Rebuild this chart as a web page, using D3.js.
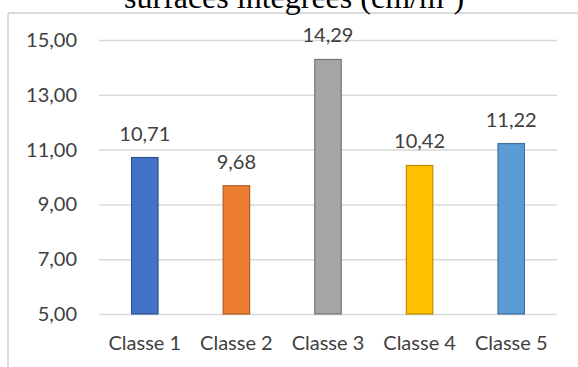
<!DOCTYPE html>
<html>
<head>
<meta charset="utf-8">
<script src="https://cdn.jsdelivr.net/npm/d3@7"></script>
<style>
    body { margin: 0; background: #fff; }
    svg { display: block; }
</style>
</head>
<body>
<svg id="SVG_CONTAINER" width="578" height="367"></svg>
<script>
// chart data
const categories = ["Classe 1", "Classe 2", "Classe 3", "Classe 4", "Classe 5"];
const values = [10.71, 9.68, 14.29, 10.42, 11.22];
const tickValues = [5, 7, 9, 11, 13, 15];
const titleText = "surfaces intégrées (cm/m²)";

const fills   = ["#4472C4", "#ED7D31", "#A5A5A5", "#FFC000", "#5B9BD5"];
const strokes = ["#2F528F", "#AE5A21", "#787878", "#BC8C00", "#41719C"];

const MARGIN = { LEFT: 99, RIGHT: 20, TOP: 40, BOTTOM: 53 };
const width = 578, height = 367;
const FONT = "Lato, 'DejaVu Sans', sans-serif";

let svg = d3.select("#SVG_CONTAINER");

// frame of the chart area (left and top edge visible)
svg.append("line")
    .attr("x1", 8).attr("x2", 8).attr("y1", 13).attr("y2", height)
    .attr("stroke", "#D0D0D0").attr("stroke-width", 1.5);
svg.append("line")
    .attr("x1", 8).attr("x2", width).attr("y1", 13).attr("y2", 13)
    .attr("stroke", "#D0D0D0").attr("stroke-width", 1.5);

// title, cut off by the top of the picture
svg.append("text")
    .attr("x", 294)
    .attr("y", 8)
    .attr("text-anchor", "middle")
    .style("font-family", "'Liberation Serif', 'Times New Roman', serif")
    .style("font-size", "32px")
    .style("fill", "#000")
    .text(titleText);

//** SCALES *****************************************
let xScale = d3.scaleBand()
    .domain(categories)
    .range([MARGIN.LEFT, width - MARGIN.RIGHT - 1])
    .paddingInner(0.695)
    .paddingOuter(0.3475);

let yScale = d3.scaleLinear()
    .domain([5, 15])
    .range([height - MARGIN.BOTTOM, MARGIN.TOP]);

let fmt = d => d.toFixed(2).replace(".", ",");

//** GRID + Y AXIS *****************************************
let yAxis = d3.axisLeft(yScale)
    .tickValues(tickValues)
    .tickSize(-(width - MARGIN.RIGHT - 1 - MARGIN.LEFT))
    .tickPadding(22)
    .tickFormat(fmt);

let yG = svg.append("g")
    .attr("transform", "translate(" + MARGIN.LEFT + ",0)")
    .call(yAxis);
yG.select(".domain").remove();
yG.selectAll(".tick line")
    .attr("stroke", "#D9D9D9")
    .attr("stroke-width", 1.5);
yG.selectAll(".tick text")
    .style("font-family", FONT)
    .style("font-size", "20px")
    .style("fill", "#404040");

//** X AXIS *****************************************
let xAxis = d3.axisBottom(xScale).tickSize(0).tickPadding(22);
let xG = svg.append("g")
    .attr("transform", "translate(0," + (height - MARGIN.BOTTOM) + ")")
    .call(xAxis);
xG.select(".domain").remove();
xG.selectAll(".tick text")
    .style("font-family", FONT)
    .style("font-size", "20px")
    .style("fill", "#404040");

//** BARS *****************************************
svg.append("g")
    .selectAll("rect")
    .data(values)
    .enter()
    .append("rect")
    .attr("x", (d, i) => xScale(categories[i]) + 0.75)
    .attr("y", d => yScale(d))
    .attr("width", xScale.bandwidth() - 1.5)
    .attr("height", d => yScale(5) - yScale(d))
    .style("fill", (d, i) => fills[i])
    .style("stroke", (d, i) => strokes[i])
    .style("stroke-width", 1.2);

// value labels
svg.append("g")
    .selectAll("text")
    .data(values)
    .enter()
    .append("text")
    .attr("x", (d, i) => xScale(categories[i]) + xScale.bandwidth() / 2)
    .attr("y", d => yScale(d) - 17)
    .attr("text-anchor", "middle")
    .style("font-family", FONT)
    .style("font-size", "20px")
    .style("fill", "#404040")
    .text(fmt);
</script>
</body>
</html>
